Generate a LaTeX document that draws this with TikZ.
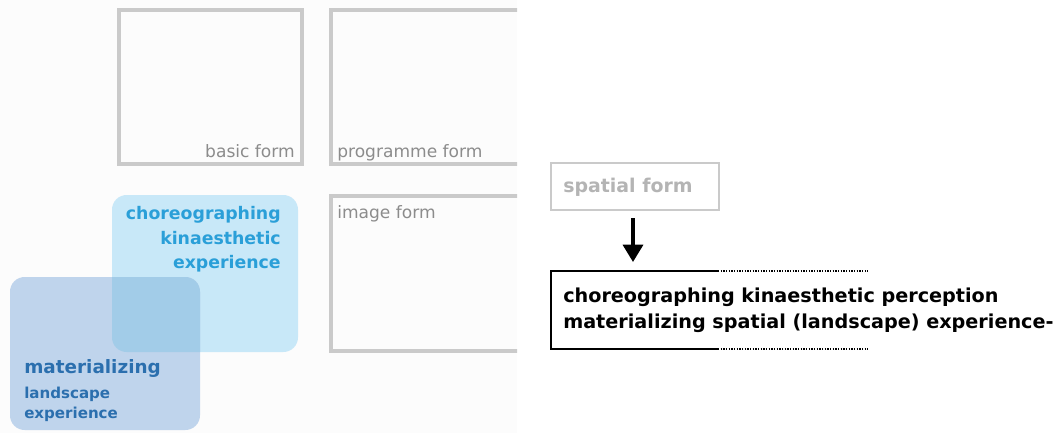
\documentclass[tikz,border=0pt]{standalone}
\usepackage{fontspec}
\setmainfont{DejaVu Sans}
\usetikzlibrary{arrows.meta}
\definecolor{framegray}{HTML}{CACACA}
\definecolor{labelgray}{HTML}{8C8C8C}
\definecolor{spatialgray}{HTML}{B4B4B4}
\definecolor{lightbox}{HTML}{C8E8F8}
\definecolor{darkbox}{HTML}{BFD4EC}
\definecolor{overlapbox}{HTML}{A2CCE8}
\definecolor{lighttext}{HTML}{2A9FD8}
\definecolor{darktext}{HTML}{2B6FAE}
\definecolor{panelbg}{HTML}{FCFCFC}
\tikzset{
  formbox/.style={draw=framegray, line width=2.8pt},
  formlabel/.style={text=labelgray, font=\fontsize{12.8}{14}\selectfont, inner sep=0pt},
  mainline/.style={line width=1.6pt, black},
  dotline/.style={line width=1.2pt, black, dash pattern=on 1pt off 1pt},
}
\begin{document}
\begin{tikzpicture}[x=0.75pt,y=-0.75pt]
\useasboundingbox (0,0) rectangle (1058,433);
\fill[white] (0,0) rectangle (1058,433);
\fill[panelbg] (0,0) rectangle (517,433);
% left panel, clipped at its right edge
\begin{scope}
\clip (0,0) rectangle (517,433);
\draw[formbox] (119,10) rectangle (302,164);
\draw[formbox] (331,10) rectangle (560,164);
\draw[formbox] (331,196) rectangle (560,351);
\node[formlabel, anchor=base east] (basic) at (295,157) {basic form};
\node[formlabel, anchor=base west] (prog) at (337,157) {programme form};
\node[formlabel, anchor=base west] (image) at (337,218) {image form};
% blue boxes
\fill[lightbox, rounded corners=11pt] (112,195) rectangle (298,352);
\fill[darkbox, rounded corners=11pt] (10,277) rectangle (200,430);
\begin{scope}
\clip[rounded corners=11pt] (112,195) rectangle (298,352);
\fill[overlapbox, rounded corners=11pt] (10,277) rectangle (200,430);
\end{scope}
\node[anchor=north east, align=right, text=lighttext, inner sep=0pt,
  font=\bfseries\fontsize{13}{18.5}\selectfont] (choreo) at (281,206)
  {choreographing\\kinaesthetic\\experience};
\node[anchor=base west, text=darktext, inner sep=0pt,
  font=\bfseries\fontsize{13.8}{16}\selectfont] (mat) at (24,373) {materializing};
\node[anchor=north west, align=left, text=darktext, inner sep=0pt,
  font=\bfseries\fontsize{11.3}{14.5}\selectfont] (land) at (24,387) {landscape\\experience};
\end{scope}
% right part
\node[draw=framegray, line width=1.5pt, minimum width=126pt, minimum height=35pt,
  inner sep=0pt] (spatial) at (635,186.5) {};
\node[anchor=base west, text=spatialgray, inner sep=0pt,
  font=\bfseries\fontsize{14.2}{14}\selectfont] (spatiallabel) at (563,192) {spatial form};
\coordinate (arrtop) at (633,218);
\coordinate (arrbot) at (633,262);
\draw[line width=2.6pt, -{Triangle[length=13pt,width=15pt]}] (arrtop) -- (arrbot);
\coordinate (tl) at (551,271);
\coordinate (tm) at (718,271);
\coordinate (tr) at (868,271);
\coordinate (bl) at (551,349);
\coordinate (bm) at (718,349);
\coordinate (br) at (868,349);
\draw[mainline] (tm) -- (tl) -- (bl) -- (bm);
\draw[dotline] (tm) -- (tr);
\draw[dotline] (bm) -- (br);
\node[anchor=north west, align=left, inner sep=0pt,
  font=\bfseries\fontsize{14.4}{19}\selectfont] (concl) at (563,288)
  {choreographing kinaesthetic perception\\materializing spatial (landscape) experience-};
\end{tikzpicture}
\end{document}
